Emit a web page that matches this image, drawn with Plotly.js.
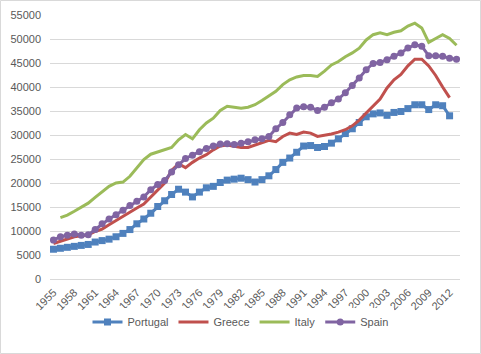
<!DOCTYPE html>
<html>
<head>
<meta charset="utf-8">
<script src="https://cdn.plot.ly/plotly-3.0.1.min.js"></script>
<style>html,body{margin:0;padding:0;background:#fff;}#chart{width:481px;height:354px;}</style>
</head>
<body>
<div id="chart"></div>
<script>
const years = [];
for (let y = 1955; y <= 2013; y++) years.push(y);

const portugal = [6200,6400,6600,6800,7000,7200,7700,8000,8300,8800,
  9500,10300,11500,12500,13700,15100,16300,17600,18700,18100,
  17100,18100,19000,19300,20100,20600,20800,21000,20700,20200,
  20700,21500,22800,24300,25200,26400,27700,27800,27400,27600,
  28300,29200,30300,31300,32600,33800,34400,34600,34100,34700,
  34900,35500,36300,36300,35300,36300,36100,34000,null];

const greece = [7400,7900,8400,8800,9000,9200,9900,10400,11300,12200,
  13100,14000,14800,15600,17000,18600,20000,22600,24000,23200,
  24300,25200,25900,26900,27700,27900,27700,27400,27400,27900,
  28500,28900,28600,29700,30400,30100,30600,30400,29700,29900,
  30200,30600,31100,31900,33100,34600,36100,37500,39800,41500,
  42600,44400,45800,45800,44400,42400,40000,37800,null];

const italy = [null,12800,13300,14100,14900,15800,17000,18100,19300,20000,
  20200,21400,23100,24900,26000,26500,26900,27400,29000,30100,
  29200,31100,32500,33500,35100,36000,35800,35600,35800,36300,
  37200,38100,39100,40500,41500,42100,42400,42400,42200,43300,
  44600,45300,46300,47100,48100,49800,50900,51300,50900,51400,
  51700,52700,53300,52300,49300,50100,50900,50100,48700];

const spain = [8100,8800,9100,9400,9100,9200,10300,11500,12500,13400,
  14300,15300,16200,17100,18600,19700,20500,22300,23800,25100,
  25800,26500,27200,27700,28100,28200,28000,28300,28600,29000,
  29200,29700,31300,32600,34200,35600,35900,35800,35100,35800,
  36700,37500,38800,40300,41900,43600,44900,45100,45700,46400,
  47100,48100,48800,48500,46500,46500,46400,46000,45800];

const yTicks = [0,5000,10000,15000,20000,25000,30000,35000,40000,45000,50000,55000];

const traces = [
  {name:'Portugal', x:years, y:portugal, type:'scatter', mode:'lines+markers',
   line:{color:'#4F81BD', width:3}, marker:{symbol:'square', size:7, color:'#4F81BD'}},
  {name:'Greece', x:years, y:greece, type:'scatter', mode:'lines',
   line:{color:'#C0504D', width:3}},
  {name:'Italy', x:years, y:italy, type:'scatter', mode:'lines',
   line:{color:'#9BBB59', width:3}},
  {name:'Spain', x:years, y:spain, type:'scatter', mode:'lines+markers',
   line:{color:'#8064A2', width:3}, marker:{symbol:'circle', size:7, color:'#8064A2'}}
];

const layout = {
  width:481, height:354,
  margin:{l:50, r:21, t:15, b:75},
  paper_bgcolor:'#ffffff', plot_bgcolor:'#ffffff',
  font:{family:'"Liberation Sans", Arial, sans-serif', size:11, color:'#595959'},
  showlegend:true,
  legend:{orientation:'h', xref:'container', yref:'container', x:0.5, xanchor:'center',
    y:(354-322)/354, yanchor:'middle', font:{size:11, color:'#595959'}, itemwidth:30},
  xaxis:{range:[1954.5, 2013.5], tickmode:'linear', tick0:1955, dtick:3, tickangle:-45,
    showgrid:false, zeroline:false, showline:false, ticks:'', ticklabelstandoff:4,
    tickfont:{size:11, color:'#595959'}},
  yaxis:{range:[0,55000], tickvals:yTicks, tickformat:'d', showgrid:true, gridcolor:'#d9d9d9',
    gridwidth:1, zeroline:true, zerolinecolor:'#d9d9d9', zerolinewidth:1, showline:false,
    ticks:'', ticklabelstandoff:8, tickfont:{size:11, color:'#595959'}},
  shapes:[{type:'rect', xref:'paper', yref:'paper',
    x0:(0.5-50)/410, x1:(480.5-50)/410, y0:(279-353.5)/264, y1:(279-0.5)/264,
    line:{color:'#d9d9d9', width:1}, fillcolor:'rgba(0,0,0,0)', layer:'below'}]
};

Plotly.newPlot('chart', traces, layout, {displayModeBar:false, staticPlot:true});
</script>
</body>
</html>
